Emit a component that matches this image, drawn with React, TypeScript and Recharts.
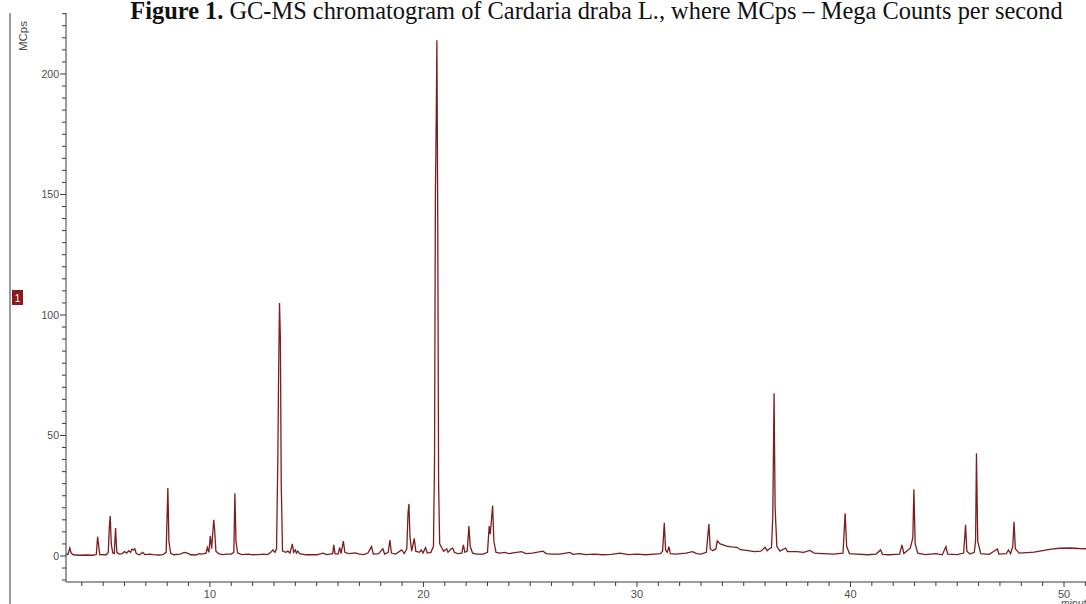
import { LineChart, Line, XAxis, YAxis } from "recharts";

// retention time (minutes) and signal (MCps)
const minutes = [
  3.26, 3.35, 3.44, 3.5, 3.6, 3.9, 4.2, 4.5, 4.68, 4.74, 4.78, 4.84,
  5.15, 5.24, 5.29, 5.33, 5.38, 5.45, 5.52, 5.58, 5.64, 5.75, 5.9, 6.0,
  6.1, 6.2, 6.28, 6.35, 6.42, 6.48, 6.55, 6.7, 6.85, 6.95, 7.2, 7.35,
  7.6, 7.8, 7.95, 8.03, 8.08, 8.16, 8.3, 8.6, 8.8, 8.95, 9.1, 9.35,
  9.5, 9.6, 9.82, 9.88, 9.95, 10.02, 10.08, 10.18, 10.22, 10.28, 10.4, 10.6,
  10.8, 11.0, 11.12, 11.17, 11.22, 11.3, 11.5, 11.8, 12.0, 12.3, 12.5, 12.7,
  12.85, 12.95, 13.05, 13.12, 13.18, 13.22, 13.26, 13.3, 13.34, 13.4, 13.55, 13.65,
  13.75, 13.86, 13.92, 14.0, 14.05, 14.12, 14.2, 14.5, 14.8, 15.0, 15.3, 15.45,
  15.75, 15.8, 15.86, 16.0, 16.08, 16.14, 16.25, 16.32, 16.5, 16.8, 17.0, 17.2,
  17.4, 17.57, 17.65, 17.9, 18.1, 18.18, 18.35, 18.43, 18.5, 18.7, 18.98, 19.1,
  19.22, 19.28, 19.32, 19.37, 19.45, 19.57, 19.64, 19.8, 19.9, 19.98, 20.1, 20.18,
  20.35, 20.47, 20.52, 20.56, 20.6, 20.63, 20.67, 20.71, 20.76, 20.85, 20.95, 21.09,
  21.15, 21.3, 21.37, 21.45, 21.6, 21.8, 21.87, 21.94, 22.05, 22.13, 22.19, 22.3,
  22.5, 22.8, 23.0, 23.08, 23.13, 23.24, 23.3, 23.4, 23.6, 23.8, 24.0, 24.2,
  24.6, 24.8, 25.1, 25.6, 25.75, 26.0, 26.4, 26.86, 27.0, 27.3, 27.6, 28.0,
  28.4, 28.8, 29.2, 29.6, 30.0, 30.4, 30.8, 31.1, 31.2, 31.28, 31.34, 31.42,
  31.5, 31.56, 31.8, 32.3, 32.6, 32.8, 33.0, 33.25, 33.37, 33.43, 33.55, 33.7,
  33.76, 33.9, 34.2, 34.4, 34.68, 34.85, 35.2, 35.5, 35.8, 36.0, 36.1, 36.2,
  36.3, 36.36, 36.42, 36.47, 36.55, 36.7, 36.96, 37.05, 37.5, 37.8, 38.1, 38.3,
  38.7, 39.2, 39.65, 39.75, 39.82, 39.95, 40.3, 40.8, 41.2, 41.41, 41.5, 41.8,
  42.3, 42.41, 42.5, 42.8, 42.92, 42.97, 43.03, 43.15, 43.5, 44.0, 44.3, 44.47,
  44.55, 45.0, 45.3, 45.39, 45.45, 45.6, 45.8, 45.86, 45.9, 45.96, 46.1, 46.5,
  46.88, 46.95, 47.3, 47.4, 47.5, 47.6, 47.66, 47.72, 47.9, 48.25, 48.6, 49.0,
  49.4, 49.8, 50.3, 50.7, 51.03,
];

const mcps = [
  0.8, 0.6, 3.3, 1.2, 0.5, 0.3, 0.4, 0.3, 0.6, 8.0, 5, 0.6,
  0.5, 1.5, 12, 16.6, 5, 1.2, 1.0, 11.6, 1.5, 0.8, 1.0, 1.8,
  1.2, 2.2, 1.5, 2.8, 2.5, 3.0, 1.0, 0.5, 1.5, 0.6, 0.8, 0.6,
  0.4, 0.6, 1.5, 28.2, 6, 1.2, 0.5, 0.8, 1.5, 1.2, 0.5, 0.4,
  1.0, 0.8, 1.2, 3.5, 1.5, 8.4, 3, 15, 11, 2, 1.0, 0.6,
  0.8, 0.8, 1.5, 26, 6, 1.2, 0.6, 0.8, 0.5, 0.6, 0.8, 0.6,
  1.5, 2.5, 1.5, 3, 40, 78, 105, 90, 30, 2, 1.5, 2.0,
  1.2, 5, 1.5, 2.5, 1.2, 2.0, 1.0, 0.5, 0.6, 0.5, 1.2, 0.6,
  1.0, 4.6, 1.0, 0.8, 3.5, 1.0, 6.2, 1.5, 1.0, 1.3, 0.8, 0.6,
  1.2, 3.9, 0.8, 1.0, 3, 0.8, 1.5, 6.6, 1.2, 0.8, 2.5, 1.0,
  3, 18, 21.6, 8, 2, 7.3, 2, 1.5, 2.5, 1.2, 3.5, 1.2,
  1.5, 4, 40, 150, 182, 214, 140, 30, 5, 3.5, 2, 3,
  1.5, 3, 3.3, 1.5, 1.0, 1.2, 4.6, 1.5, 2, 12.4, 4, 1.2,
  0.8, 0.8, 1.5, 12.4, 9, 20.9, 6, 1.5, 1.2, 1.5, 1.0, 1.3,
  1.8, 1.0, 1.2, 2.0, 1.0, 0.8, 0.8, 1.5, 0.7, 1.0, 0.6, 0.8,
  0.5, 0.7, 1.2, 0.6, 0.8, 0.5, 0.8, 1.0, 2, 13.8, 2.5, 1.5,
  3.9, 1.0, 0.8, 1.2, 1.8, 1.0, 0.8, 1.5, 13.3, 3, 2.2, 3.0,
  6.3, 5, 4.1, 3.8, 3.6, 2.6, 2.2, 1.8, 2.0, 3.6, 2.2, 3.0,
  3.5, 16, 67.5, 20, 4, 2.0, 3.3, 1.8, 1.8, 1.5, 2.3, 1.2,
  1.0, 0.8, 1.2, 17.7, 4, 1.0, 0.8, 0.5, 0.8, 2.5, 0.7, 0.5,
  0.8, 4.6, 1.0, 3.2, 7.5, 27.7, 5, 1.2, 0.6, 1.0, 0.5, 3.9,
  0.8, 0.6, 1.2, 12.9, 2, 0.8, 1.5, 6.6, 42.6, 6, 1.0, 0.7,
  2.9, 0.8, 1.0, 2.5, 1.0, 4, 14.2, 3, 1.2, 1.4, 1.6, 2.2,
  2.8, 3.2, 3.3, 3.1, 3.0,
];

const xTicks = [
  4, 5, 6, 7, 8, 9, 10, 11, 12, 13, 14, 15, 16, 17, 18, 19, 20, 21, 22, 23,
  24, 25, 26, 27, 28, 29, 30, 31, 32, 33, 34, 35, 36, 37, 38, 39, 40, 41, 42,
  43, 44, 45, 46, 47, 48, 49, 50, 51,
];
const xLabels = [10, 20, 30, 40, 50];

const yTicks = [
  -10, -5, 0, 5, 10, 15, 20, 25, 30, 35, 40, 45, 50, 55, 60, 65, 70, 75, 80,
  85, 90, 95, 100, 105, 110, 115, 120, 125, 130, 135, 140, 145, 150, 155, 160,
  165, 170, 175, 180, 185, 190, 195, 200, 205, 210, 215, 220, 225,
];
const yLabels = [0, 50, 100, 150, 200];

const data = minutes.map((t, i) => ({ t, v: mcps[i] }));

const axisColor = "#3a3a3a";
const sans = "Liberation Sans, Arial, sans-serif";

function YTick(props: any) {
  const { x, y, payload } = props;
  const major = yLabels.includes(payload.value);
  return (
    <g>
      <line x1={x - (major ? 6 : 4)} x2={x} y1={y} y2={y} stroke={axisColor} />
      {major && (
        <text x={x - 7} y={y + 4} textAnchor="end" fontFamily={sans} fontSize={10.5} fill="#4d4d4d">
          {payload.value}
        </text>
      )}
    </g>
  );
}

function XTick(props: any) {
  const { x, y, payload } = props;
  const major = xLabels.includes(payload.value);
  return (
    <g>
      <line x1={x} x2={x} y1={y} y2={y + (major ? 5 : 4)} stroke={axisColor} />
      {major && (
        <text x={x} y={y + 16} textAnchor="middle" fontFamily={sans} fontSize={11} fill="#4d4d4d">
          {payload.value}
        </text>
      )}
    </g>
  );
}

export default function App() {
  return (
    <div
      style={{
        position: "absolute",
        left: 0,
        top: 0,
        width: 1086,
        height: 604,
        overflow: "hidden",
        background: "#fff",
      }}
    >
      <LineChart width={1086} height={604} data={data} margin={{ top: 13, right: 0, left: 0, bottom: 0 }}>
        <XAxis
          dataKey="t"
          type="number"
          domain={[3.26, 51.03]}
          allowDataOverflow
          ticks={xTicks}
          interval={0}
          height={22}
          tickSize={0}
          tickMargin={0}
          tickLine={false}
          tick={<XTick />}
          stroke={axisColor}
        />
        <YAxis
          type="number"
          domain={[-10.8, 225.3]}
          allowDataOverflow
          ticks={yTicks}
          interval={0}
          width={66}
          tickSize={0}
          tickMargin={0}
          tickLine={false}
          tick={<YTick />}
          stroke={axisColor}
        />
        <Line
          type="linear"
          dataKey="v"
          stroke="#7a1e1e"
          strokeWidth={1.3}
          dot={false}
          isAnimationActive={false}
        />
      </LineChart>
      <svg
        width={1086}
        height={604}
        style={{ position: "absolute", left: 0, top: 0, pointerEvents: "none" }}
      >
        <text
          x={596.5}
          y={19}
          textAnchor="middle"
          fontFamily="Liberation Serif, Times New Roman, serif"
          fontSize={24.4}
          fill="#111"
        >
          <tspan fontWeight="bold">Figure 1.</tspan>
          <tspan> GC-MS chromatogram of Cardaria draba L., where MCps – Mega Counts per second</tspan>
        </text>
        <line x1={10} x2={10} y1={13} y2={604} stroke="#9a9a9a" strokeWidth={2} />
        <text
          transform="translate(26.5,36) rotate(-90)"
          textAnchor="middle"
          fontFamily={sans}
          fontSize={11.5}
          fill="#4d4d4d"
        >
          MCps
        </text>
        <rect x={12} y={290} width={11} height={15} fill="#8b1a1a" />
        <text x={17.5} y={301.5} textAnchor="middle" fontFamily={sans} fontSize={10} fill="#fff">
          1
        </text>
        <text x={1061} y={607} fontFamily={sans} fontSize={10.5} fill="#4d4d4d">
          minute
        </text>
      </svg>
    </div>
  );
}
